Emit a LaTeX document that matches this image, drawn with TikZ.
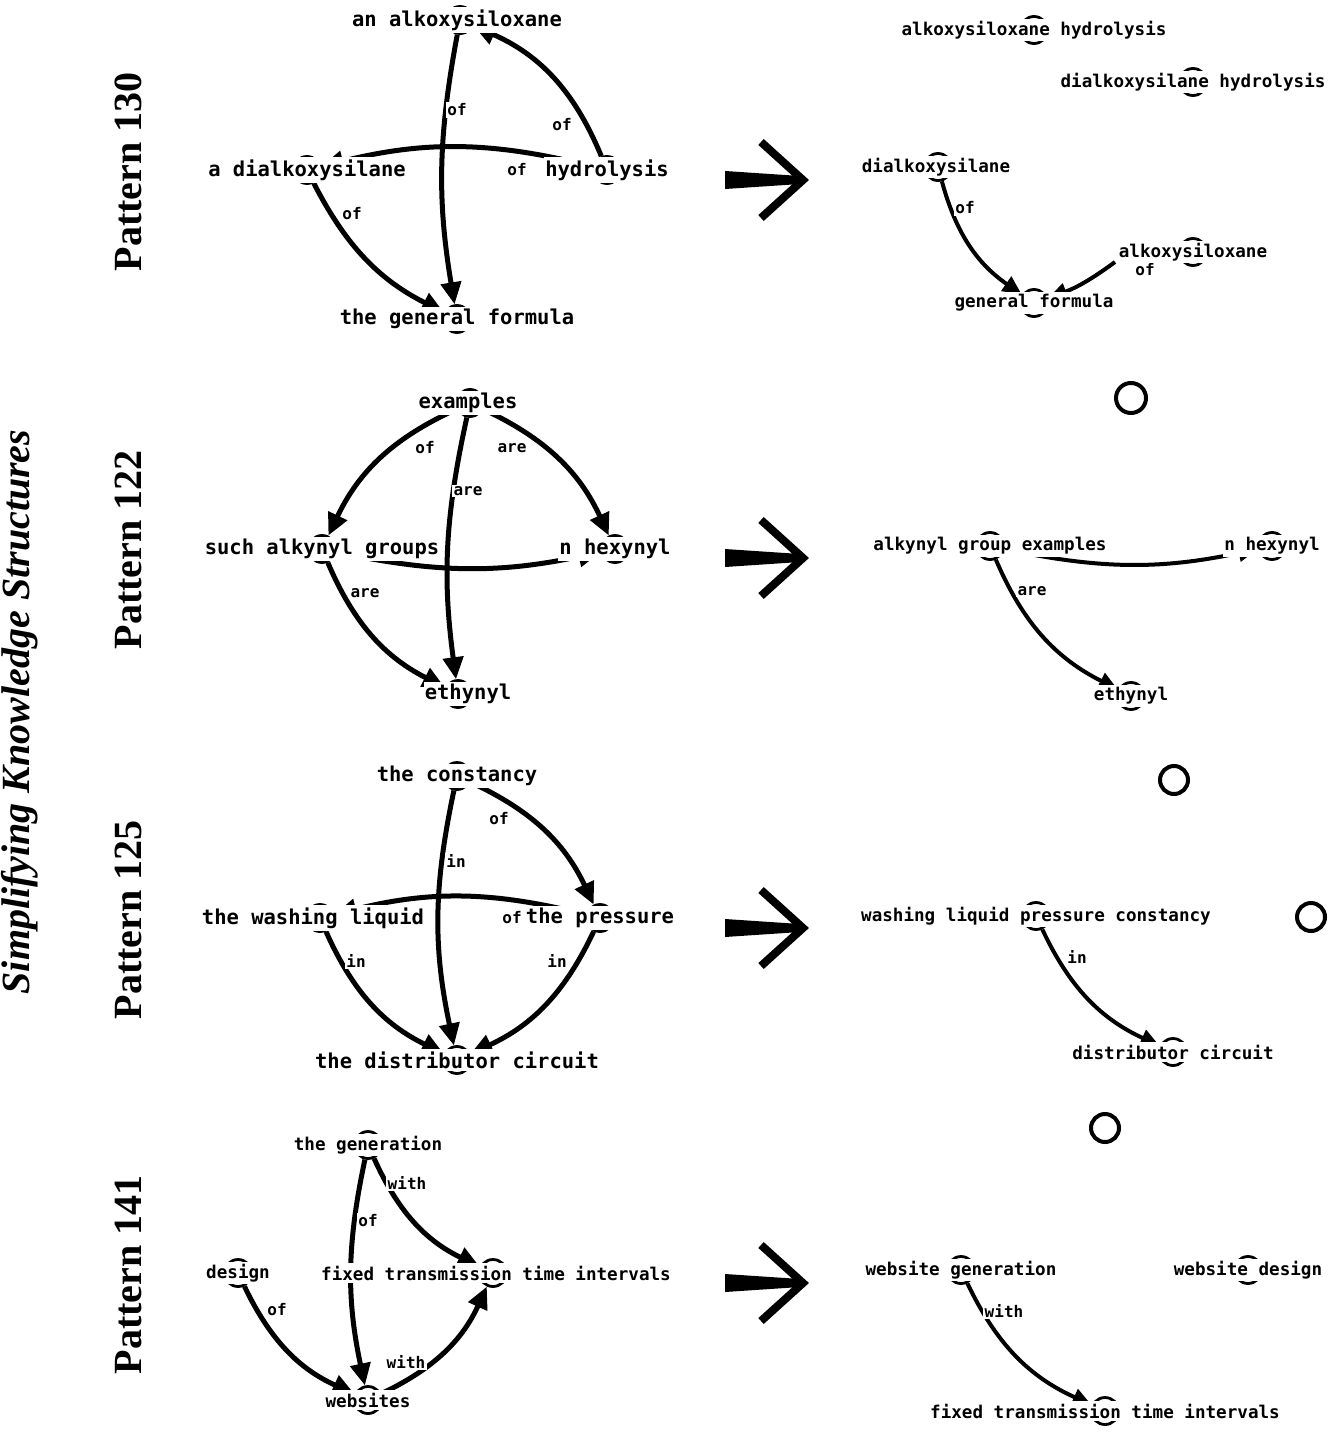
\documentclass[tikz,border=0pt]{standalone}
\usepackage{fontspec}
\setmonofont{DejaVu Sans Mono}
\newfontfamily\serifb{Liberation Serif}
\usetikzlibrary{arrows.meta}
\begin{document}
\begin{tikzpicture}[x=1pt,y=1pt,
  pt/.style={circle,draw,line width=2.8pt,minimum size=27pt,inner sep=0pt},
  txt/.style={fill=white,inner xsep=1pt,inner ysep=2.5pt,font=\fontsize{20.5}{20.5}\ttfamily\bfseries},
  txs/.style={fill=white,inner xsep=1pt,inner ysep=2.5pt,font=\fontsize{17.6}{17.6}\ttfamily\bfseries},
  lab/.style={fill=white,inner sep=1.5pt,font=\fontsize{16}{16}\ttfamily\bfseries},
  ed/.style={line width=5pt,-{Triangle[length=22pt,width=20pt]}},
  ed2/.style={line width=4pt,-{Triangle[length=19pt,width=17pt]}},
  pat/.style={rotate=90,font=\fontsize{40}{40}\serifb\bfseries},
  bigarrow/.pic={\fill (-40,9) -- (35,4) -- (35,-4) -- (-40,-9) -- cycle;
                 \draw[line width=8pt,line cap=butt,line join=miter] (-4,38) -- (38,0) -- (-4,-38);}]
\useasboundingbox (0,0) rectangle (1330,-1434);
% side labels
\node[rotate=90,font=\fontsize{40}{40}\serifb\bfseries\itshape] (title) at (20,-712) {Simplifying Knowledge Structures};
\node[pat] (p1) at (128,-172) {Pattern 130};
\node[pat] (p2) at (128,-550) {Pattern 122};
\node[pat] (p3) at (128,-920) {Pattern 125};
\node[pat] (p4) at (128,-1275) {Pattern 141};
\pic at (765,-180) {bigarrow};
\pic at (765,-558) {bigarrow};
\pic at (765,-928) {bigarrow};
\pic at (765,-1283) {bigarrow};
% ===== circles
\node[pt] (A) at (460,-20) {};
\node[pt] (D) at (307,-170) {};
\node[pt] (H) at (607,-170) {};
\node[pt] (G) at (457,-319) {};
\node[pt] (rA) at (1034,-30) {};
\node[pt] (rB) at (1193,-82) {};
\node[pt] (rD) at (938,-167) {};
\node[pt] (rS) at (1193,-252) {};
\node[pt] (rG) at (1034,-303) {};
\coordinate (rSw) at (1115,-262);
\node[circle,draw,line width=4pt,minimum size=30pt] (o1) at (1131,-398) {};
\node[pt] (E) at (470,-403) {};
\node[pt] (S) at (322,-549) {};
\node[pt] (N) at (615,-549) {};
\node[pt] (Et) at (458,-694) {};
\node[pt] (rE) at (990,-546) {};
\node[pt] (rN) at (1272,-546) {};
\node[pt] (rEt) at (1131,-696) {};
\node[circle,draw,line width=4pt,minimum size=28pt] (o2) at (1174,-780) {};
\node[pt] (C) at (457,-776) {};
\node[pt] (W) at (320,-918) {};
\node[pt] (P) at (600,-918) {};
\node[pt] (Dc) at (457,-1060) {};
\node[pt] (rC) at (1036,-916) {};
\node[pt] (rDc) at (1173,-1052) {};
\node[circle,draw,line width=4pt,minimum size=28pt] (o3) at (1311,-917) {};
\node[circle,draw,line width=4pt,minimum size=28pt] (o4) at (1105,-1128) {};
\node[pt] (Ge) at (368,-1145) {};
\node[pt] (De) at (238,-1273) {};
\node[pt] (F) at (493,-1273) {};
\node[pt] (Wb) at (368,-1400) {};
\node[pt] (rWg) at (961,-1270) {};
\node[pt] (rWd) at (1248,-1270) {};
\node[pt] (rF) at (1105,-1411) {};
% ===== edges
\draw[ed] (A) to[bend right=10] (G);
\draw[ed] (H) to[bend right=22] (A);
\draw[ed] (H) to[bend right=14] (D);
\draw[ed] (D) to[bend right=18] (G);
\draw[ed2] (rD) to[bend right=20] (rG);
\draw[ed2] (rSw) to[bend left=8] (rG);
\draw[ed] (E) to[bend right=20] (S);
\draw[ed] (E) to[bend left=20] (N);
\draw[ed] (E) to[bend right=10] (Et);
\draw[ed] (S) to[bend right=12] (N);
\draw[ed] (S) to[bend right=20] (Et);
\draw[ed2] (rE) to[bend right=12] (rN);
\draw[ed2] (rE) to[bend right=20] (rEt);
\draw[ed] (C) to[bend right=12] (Dc);
\draw[ed] (C) to[bend left=20] (P);
\draw[ed] (P) to[bend right=14] (W);
\draw[ed] (W) to[bend right=20] (Dc);
\draw[ed] (P) to[bend left=20] (Dc);
\draw[ed2] (rC) to[bend right=20] (rDc);
\draw[ed] (Ge) to[bend right=12] (Wb);
\draw[ed] (Ge) to[bend right=20] (F);
\draw[ed] (De) to[bend right=20] (Wb);
\draw[ed] (Wb) to[bend right=20] (F);
\draw[ed2] (rWg) to[bend right=20] (rF);
% ===== labels
\node[lab] (l1) at (457,-110) {of};
\node[lab] (l2) at (562,-125) {of};
\node[lab] (l3) at (517,-170) {of};
\node[lab] (l4) at (352,-214) {of};
\node[lab] (l5) at (965,-208) {of};
\node[lab] (l6) at (1145,-270) {of};
\node[lab] (l7) at (425,-448) {of};
\node[lab] (l8) at (512,-448) {are};
\node[lab] (l9) at (468,-491) {are};
\node[lab] (l10) at (365,-593) {are};
\node[lab] (l11) at (1032,-591) {are};
\node[lab] (l12) at (456,-861) {in};
\node[lab] (l13) at (499,-819) {of};
\node[lab] (l14) at (512,-918) {of};
\node[lab] (l15) at (356,-961) {in};
\node[lab] (l16) at (557,-961) {in};
\node[lab] (l17) at (1077,-957) {in};
\node[lab] (l18) at (368,-1221) {of};
\node[lab] (l19) at (407,-1183) {with};
\node[lab] (l20) at (277,-1310) {of};
\node[lab] (l21) at (406,-1362) {with};
\node[lab] (l22) at (1004,-1311) {with};
% ===== texts
\node[txt] (tA) at (457,-20) {an alkoxysiloxane};
\node[txt] (tD) at (307,-170) {a dialkoxysilane};
\node[txt] (tH) at (607,-170) {hydrolysis};
\node[txt] (tG) at (457,-319) {the general formula};
\node[txs] (trA) at (1034,-30) {alkoxysiloxane hydrolysis};
\node[txs] (trB) at (1193,-82) {dialkoxysilane hydrolysis};
\node[txs] (trD) at (936,-167) {dialkoxysilane};
\node[txs] (trS) at (1193,-252) {alkoxysiloxane};
\node[txs] (trG) at (1034,-303) {general formula};
\node[txt] (tE) at (468,-403) {examples};
\node[txt] (tS) at (322,-549) {such alkynyl groups};
\node[txt] (tN) at (615,-549) {n hexynyl};
\node[txt] (tEt) at (468,-694) {ethynyl};
\node[txs] (trE) at (990,-546) {alkynyl group examples};
\node[txs] (trN) at (1272,-546) {n hexynyl};
\node[txs] (trEt) at (1131,-696) {ethynyl};
\node[txt] (tC) at (457,-776) {the constancy};
\node[txt] (tW) at (313,-918) {the washing liquid};
\node[txt] (tP) at (600,-918) {the pressure};
\node[txt] (tDc) at (457,-1060) {the distributor circuit};
\node[txs] (trC) at (1036,-916) {washing liquid pressure constancy};
\node[txs] (trDc) at (1173,-1052) {distributor circuit};
\node[txs] (tGe) at (368,-1145) {the generation};
\node[txs] (tDe) at (238,-1273) {design};
\node[txs] (tF) at (496,-1273) {fixed transmission time intervals};
\node[txs] (tWb) at (368,-1400) {websites};
\node[txs] (trWg) at (961,-1270) {website generation};
\node[txs] (trWd) at (1248,-1270) {website design};
\node[txs] (trF) at (1105,-1411) {fixed transmission time intervals};
\end{tikzpicture}
\end{document}
